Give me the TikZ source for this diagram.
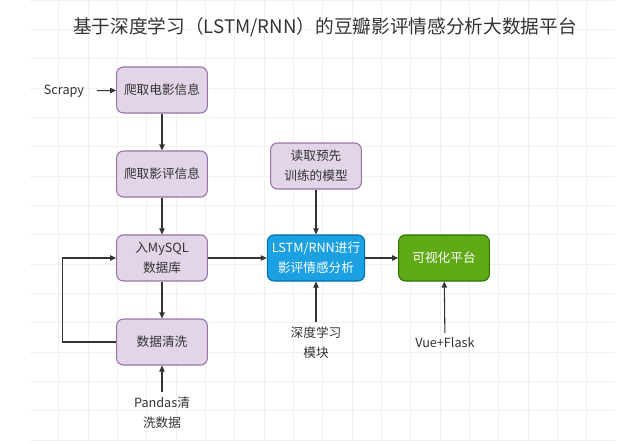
\documentclass[tikz,border=0pt]{standalone}
\usepackage{fontspec}
\setmainfont{Noto Sans CJK SC}
\usetikzlibrary{arrows.meta}
\definecolor{purfill}{HTML}{E1D5E7}
\definecolor{purline}{HTML}{9673A6}
\definecolor{bluefill}{HTML}{1BA1E2}
\definecolor{blueline}{HTML}{006EAF}
\definecolor{grnfill}{HTML}{60A917}
\definecolor{grnline}{HTML}{2D7600}
\definecolor{ink}{HTML}{333333}
\begin{document}
\begin{tikzpicture}[x=0.75pt,y=-0.75pt,
  every node/.style={font=\fontsize{9.5}{15}\selectfont,text=ink},
  box/.style={draw=purline,fill=purfill,rounded corners=5pt,line width=0.8pt,
    minimum width=68pt,minimum height=34.5pt,align=center},
  arr/.style={-{Triangle[length=4.5pt,width=4pt]},line width=0.8pt,ink}]
\useasboundingbox (0,0) rectangle (623,443);
% background grid
\draw[gray!12,line width=0.4pt,step=22pt] (30,0) grid (615,443);
% title
\node[font=\fontsize{14}{16}\selectfont] (title) at (325,27) {基于深度学习（LSTM/RNN）的豆瓣影评情感分析大数据平台};
% crawl and storage column
\node[box] (movie) at (162,90) {爬取电影信息};
\node[box] (review) at (162,174) {爬取影评信息};
\node[box] (mysql) at (162,258) {入MySQL\\数据库};
\node[box] (clean) at (162,342) {数据清洗};
% model and platform
\node[box] (model) at (316,166) {读取预先\\训练的模型};
\node[box,draw=blueline,fill=bluefill,text=white] (lstm) at (316,258) {LSTM/RNN进行\\影评情感分析};
\node[box,draw=grnline,fill=grnfill,text=white] (vis) at (444,258) {可视化平台};
% tool labels
\node (scrapy) at (64,91) {Scrapy};
\node[align=center] (pandas) at (162,413) {Pandas清\\洗数据};
\node[align=center] (dl) at (316,343) {深度学习\\模块};
\node (vue) at (445,343) {Vue+Flask};
% arrows
\draw[arr,shorten <=6pt] (scrapy) -- (movie);
\draw[arr] (movie) -- (review);
\draw[arr] (review) -- (mysql);
\draw[arr] (mysql) -- (clean);
\draw[arr] (mysql) -- (lstm);
\draw[arr] (lstm) -- (vis);
\draw[arr] (model) -- (lstm);
\draw[arr] (pandas) -- (clean);
\draw[arr] (dl) -- (lstm);
\draw[arr] (vue) -- (vis);
\draw[arr] (clean.west) -- ++(-54,0) |- (mysql.west);
\end{tikzpicture}
\end{document}
